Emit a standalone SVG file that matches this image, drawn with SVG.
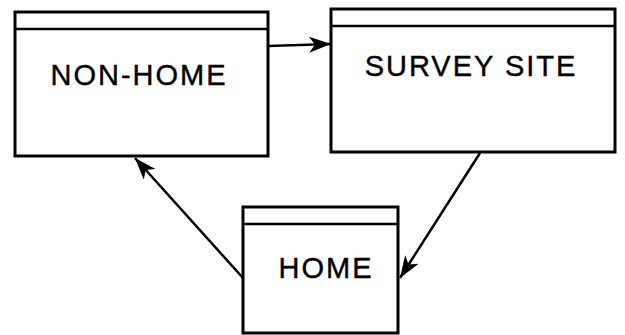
<svg xmlns="http://www.w3.org/2000/svg" width="625" height="335" viewBox="0 0 625 335">
<style>
.box{fill:#fff;stroke:#000;stroke-width:3}
.hdr{stroke:#000;stroke-width:2.5;fill:none}
.lbl{font-family:"Liberation Sans",Arial,sans-serif;font-size:29px;fill:#000;text-anchor:middle;letter-spacing:2px;stroke:#000;stroke-width:0.4}
.conn{stroke:#000;stroke-width:2.5;fill:none}
</style>
<defs>
<marker id="ah" viewBox="0 0 22 16" refX="22" refY="8" markerWidth="22" markerHeight="16" markerUnits="userSpaceOnUse" orient="auto">
<path d="M0,0 L22,8 L0,16 L6,8 Z" fill="#000"/>
</marker>
</defs>
<g id="connectors">
<line class="conn" x1="268" y1="46" x2="331" y2="44" marker-end="url(#ah)"/>
<line class="conn" x1="480" y1="153" x2="400" y2="278" marker-end="url(#ah)"/>
<line class="conn" x1="243" y1="278" x2="135" y2="158" marker-end="url(#ah)"/>
</g>
<g id="non-home">
<rect class="box" x="15" y="12" width="253" height="144"/>
<line class="hdr" x1="15" y1="29" x2="268" y2="29"/>
<text class="lbl" x="139" y="85">NON-HOME</text>
</g>
<g id="survey-site">
<rect class="box" x="331" y="9" width="284" height="143"/>
<line class="hdr" x1="331" y1="26" x2="615" y2="26"/>
<text class="lbl" x="471" y="76">SURVEY SITE</text>
</g>
<g id="home">
<rect class="box" x="243" y="207" width="155" height="126"/>
<line class="hdr" x1="243" y1="224" x2="398" y2="224"/>
<text class="lbl" x="326" y="278">HOME</text>
</g>
</svg>
